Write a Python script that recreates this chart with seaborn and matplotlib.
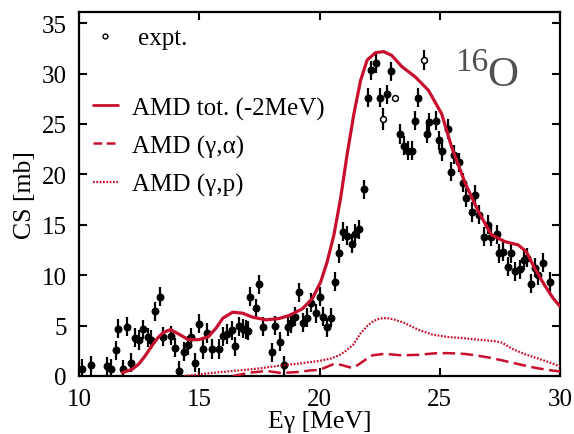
import numpy as np
import pandas as pd
import matplotlib
matplotlib.use("Agg")
import matplotlib.pyplot as plt
import seaborn as sns
from matplotlib.lines import Line2D

# ---------------- data ----------------
E_pts = [10.12, 10.5, 11.15, 11.35, 11.52, 11.64, 11.83, 12.0, 12.15, 12.34, 12.5, 12.65, 12.85, 13.01,
         13.16, 13.35, 13.5, 13.84, 14.0, 14.17, 14.36, 14.53, 14.66, 14.84, 15.0, 15.15, 15.32, 15.51,
         15.84, 15.99, 16.14, 16.35, 16.5, 16.64, 16.83, 16.94, 17.03, 17.13, 17.35, 17.5, 17.64, 18.02,
         18.14, 18.35, 18.52, 18.67, 18.83, 18.99, 19.15, 19.33, 19.49, 19.63, 19.84, 20.0, 20.13, 20.33,
         20.49, 20.65, 20.81, 20.99, 21.14, 21.35, 21.47, 21.64, 21.85, 22.02, 22.13, 22.34, 22.5, 22.82,
         22.99, 23.34, 23.5, 23.68, 23.86, 23.98, 24.1, 24.47, 24.57, 24.83, 24.97, 25.09, 25.36, 25.45,
         25.61, 25.81, 25.95, 26.1, 26.33, 26.47, 26.62, 26.82, 26.99, 27.13, 27.38, 27.47, 27.63, 27.85,
         27.96, 28.13, 28.32, 28.51, 28.62, 28.81, 28.95, 29.1, 29.31, 29.58]
CS_pts = [0.7, 1.07, 0.97, 0.7, 2.57, 4.7, 0.65, 4.9, 1.3, 3.8, 3.57, 4.63, 3.83, 3.6,
          6.4, 7.85, 3.9, 4.0, 2.8, 0.5, 2.4, 3.05, 3.85, 1.33, 5.17, 2.67, 4.27, 2.67,
          2.67, 3.93, 4.17, 4.55, 2.95, 4.95, 4.7, 4.6, 4.5, 7.87, 6.73, 9.1, 4.9, 2.35,
          5.0, 3.38, 1.08, 4.87, 5.25, 5.88, 8.3, 5.27, 5.78, 7.25, 6.2, 7.85, 5.88, 4.85,
          5.8, 9.37, 12.17, 14.33, 13.9, 13.1, 14.1, 14.55, 18.5, 27.6, 30.33, 31.0, 27.6, 27.95,
          30.2, 24.0, 22.83, 22.33, 22.33, 25.3, 27.6, 24.05, 25.17, 25.33, 23.37, 22.3, 24.5, 20.27,
          21.95, 21.2, 19.17, 17.67, 16.27, 17.95, 16.0, 13.83, 15.0, 13.83, 14.07, 12.17, 12.33, 10.83,
          12.17, 10.4, 10.6, 11.5, 11.73, 9.17, 10.73, 10.0, 11.23, 9.33]
ERRBAR = 0.95

E_open = [22.65, 23.15, 24.33]
CS_open = [25.5, 27.6, 31.35]
ERR_open = [1.1, 0.0, 1.0]

E_tot = [11.8, 12.2, 12.48, 12.75, 13.03, 13.3, 13.52, 13.8, 14.14, 14.55, 14.97, 15.38, 15.7, 15.98,
         16.39, 16.8, 17.22, 17.77, 18.32, 18.74, 19.29, 19.7, 20.05, 20.32, 20.6, 20.88, 21.15, 21.43,
         21.71, 21.98, 22.33, 22.67, 23.0, 23.43, 23.98, 24.53, 25.08, 25.5, 26.05, 26.6, 27.15, 27.71,
         28.26, 28.6, 28.95, 29.36, 29.71, 30.0]
CS_tot = [0.33, 0.65, 1.17, 2.0, 3.0, 3.85, 4.33, 4.6, 4.17, 3.6, 3.6, 3.9, 4.75, 5.73,
          6.33, 6.23, 5.83, 5.57, 5.7, 6.0, 6.67, 7.67, 9.33, 11.33, 14.0, 17.67, 22.0, 26.0,
          29.33, 31.33, 32.07, 32.17, 31.8, 30.67, 29.67, 28.33, 26.0, 22.67, 19.17, 16.33, 14.0, 13.33,
          13.0, 12.33, 10.67, 9.0, 7.73, 6.9]

E_alpha = [16.4, 17.1, 17.8, 18.4, 19.15, 19.6, 20.0, 20.3, 20.6, 20.9, 21.35, 21.6, 21.9, 22.2,
           22.7, 23.4, 24.1, 24.8, 25.3, 26.0, 26.5, 27.0, 27.5, 28.0, 28.5, 29.0, 29.5, 30.0]
CS_alpha = [0.0, 0.33, 0.5, 0.3, 0.4, 0.55, 0.6, 0.9, 1.2, 1.1, 0.8, 1.1, 1.6, 2.05,
            2.2, 2.05, 2.1, 2.25, 2.27, 2.2, 2.05, 1.85, 1.6, 1.33, 1.05, 0.8, 0.6, 0.45]

E_p = [14.38, 15.5, 16.4, 17.5, 18.4, 19.2, 20.0, 20.5, 20.85, 21.1, 21.4, 21.7, 22.0, 22.25,
       22.5, 22.8, 23.1, 23.5, 24.1, 24.7, 25.4, 26.0, 26.6, 27.3, 27.6, 28.0, 28.5, 29.0, 29.5, 30.0]
CS_p = [0.0, 0.3, 0.5, 0.75, 1.05, 1.25, 1.5, 1.75, 2.1, 2.5, 3.1, 4.2, 5.0, 5.45,
        5.7, 5.75, 5.6, 5.3, 4.6, 4.1, 3.85, 3.75, 3.6, 3.45, 3.3, 2.7, 2.2, 1.8, 1.4, 0.95]

labels = ["expt.", "AMD tot. (-2MeV)", "AMD (\u03b3,\u03b1)", "AMD (\u03b3,p)"]

# ---------------- style ----------------
sns.set_theme(style="ticks")
plt.rcParams["font.family"] = ["Liberation Serif", "DejaVu Serif"]
plt.rcParams["text.color"] = "black"
plt.rcParams["axes.labelcolor"] = "black"

RED = "#c8102e"
DASH = (0, (5.0, 2.2))
DOT = (0, (0.8, 0.7))

fig = plt.figure(figsize=(5.74, 4.35), dpi=100)
ax = fig.add_axes([79 / 574, 1 - 377 / 435, (560 - 79) / 574, (377 - 13) / 435])

df_pts = pd.DataFrame({"E": E_pts, "CS": CS_pts})
df_open = pd.DataFrame({"E": E_open, "CS": CS_open})

# error bars
ax.errorbar(df_pts["E"], df_pts["CS"], yerr=ERRBAR, fmt="none", ecolor="black",
            elinewidth=1.6, capsize=0, zorder=3)
ax.errorbar(df_open["E"], df_open["CS"], yerr=ERR_open, fmt="none", ecolor="black",
            elinewidth=1.6, capsize=0, zorder=3)
sns.scatterplot(data=df_pts, x="E", y="CS", ax=ax, color="black", s=24,
                edgecolor="black", linewidth=0.8, zorder=4)
sns.scatterplot(data=df_open, x="E", y="CS", ax=ax, color="white", s=18,
                edgecolor="black", linewidth=1.1, zorder=4)

# model curves
sns.lineplot(x=E_tot, y=CS_tot, ax=ax, color=RED, linewidth=2.3, zorder=5, sort=False)
sns.lineplot(x=E_alpha, y=CS_alpha, ax=ax, color=RED, linewidth=1.8, zorder=5, sort=False)
ax.lines[-1].set_linestyle(DASH)
sns.lineplot(x=E_p, y=CS_p, ax=ax, color=RED, linewidth=1.6, zorder=5, sort=False)
ax.lines[-1].set_linestyle(DOT)

ax.set_xlim(10, 30)
ax.set_ylim(0, 36.1)
ax.set_xticks([10, 15, 20, 25, 30])
ax.set_yticks([0, 5, 10, 15, 20, 25, 30, 35])
ax.tick_params(direction="in", length=6, width=1.5, top=True, right=True,
               labelsize=18, colors="black")
ax.tick_params(axis="y", pad=9)
ax.tick_params(axis="x", pad=9)
for s in ax.spines.values():
    s.set_linewidth(1.6)
    s.set_color("black")

ax.set_xlabel("E\u03b3 [MeV]", fontsize=18.5, labelpad=0, color="black")
ax.set_ylabel("CS [mb]", fontsize=18.5, labelpad=4, color="black")

# legends
h_expt = [Line2D([], [], linestyle="none", marker="o", markersize=3.5,
                 markerfacecolor="white", markeredgecolor="black", markeredgewidth=1.0)]
leg1 = ax.legend(h_expt, [labels[0]], loc="upper left", bbox_to_anchor=(0.029, 0.959),
                 frameon=False, fontsize=18, handlelength=1.0, handletextpad=0.8,
                 borderpad=0, borderaxespad=0, labelcolor="black")
ax.add_artist(leg1)
h_lines = [Line2D([], [], color=RED, linewidth=2.0),
           Line2D([], [], color=RED, linewidth=1.8, linestyle=(0, (3.5, 1.8))),
           Line2D([], [], color=RED, linewidth=1.6, linestyle=DOT)]
ax.legend(h_lines, labels[1:], loc="upper left", bbox_to_anchor=(0.029, 0.768),
          frameon=False, fontsize=18, handlelength=1.0, handletextpad=0.55,
          labelspacing=0.6, borderpad=0, borderaxespad=0, labelcolor="black")

# nucleus label
fig.text(455 / 574, 1 - 71 / 435, "16", fontsize=24, color="#505050", va="baseline", ha="left")
fig.text(487 / 574, 1 - 86 / 435, "O", fontsize=31, color="#505050", va="baseline", ha="left")

fig.savefig("out.png", dpi=100)
